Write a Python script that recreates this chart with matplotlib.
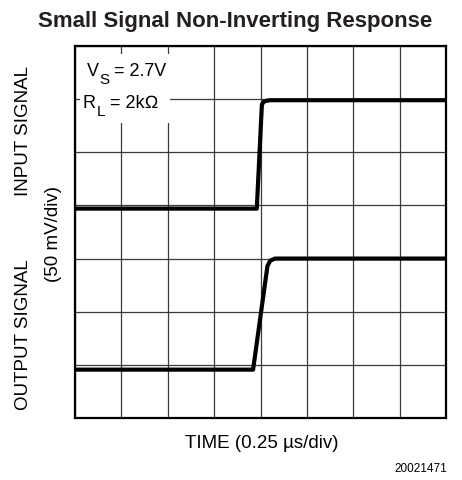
import matplotlib
matplotlib.use("Agg")
import matplotlib.pyplot as plt
from matplotlib.patches import Rectangle
import numpy as np

plt.rcParams['font.family'] = ['Liberation Sans', 'DejaVu Sans']

# time in divisions (0.25 us/div), signal in divisions (50 mV/div)
input_t = [0.0, 3.92, 4.03, 4.08, 4.2, 8.0]
input_v = [3.94, 3.94, 5.9, 5.96, 5.98, 5.98]

output_t = [0.0, 3.84, 4.15, 4.21, 4.31, 8.0]
output_v = [0.91, 0.91, 2.86, 2.96, 3.0, 3.0]

n_xdiv = 8
n_ydiv = 7

fig = plt.figure(figsize=(4.62, 4.81), dpi=100)
ax = fig.add_axes([75 / 462, 62 / 481, 371 / 462, 372 / 481])

ax.set_xlim(0, n_xdiv)
ax.set_ylim(0, n_ydiv)
ax.set_xticks(np.arange(0, n_xdiv + 1))
ax.set_yticks(np.arange(0, n_ydiv + 1))
ax.tick_params(length=0, labelbottom=False, labelleft=False)
ax.set_axisbelow(True)
ax.grid(True, color='#3a3a3a', linewidth=0.9)
for s in ax.spines.values():
    s.set_linewidth(1.6)
    s.set_color('black')
    s.set_zorder(5)

# white patch behind the condition text
ax.add_patch(Rectangle((0.11, 5.55), 1.93, 1.3, facecolor='white', edgecolor='none', zorder=1))

ax.plot(input_t, input_v, color='black', linewidth=3.0, solid_joinstyle='round', zorder=3)
ax.plot(output_t, output_v, color='black', linewidth=3.0, solid_joinstyle='round', zorder=3)


def cond_text(x, y, main, sub, rest):
    t = ax.text(x, y, main, fontsize=13, ha='left', va='baseline', zorder=4)
    s = ax.annotate(sub, xy=(1, 0), xycoords=t, xytext=(0.3, -5), textcoords='offset points',
                    fontsize=11, ha='left', va='bottom', zorder=4)
    ax.annotate(rest, xy=(1, 0), xycoords=(s, t), xytext=(0, 0), textcoords='offset points',
                fontsize=13, ha='left', va='bottom', zorder=4)


cond_text(0.25, 6.445, 'V', 'S', ' = 2.7V')
cond_text(0.17, 5.86, 'R', 'L', ' = 2k\u2126')

fig.text(235 / 462, 1 - 27.5 / 481, 'Small Signal Non-Inverting Response', fontsize=16,
         fontweight='bold', ha='center', va='baseline', color='#231f20')
fig.text(24 / 462, 1 - 131 / 481, 'INPUT SIGNAL', fontsize=13.5, rotation=90, ha='center', va='center')
fig.text(54 / 462, 1 - 234 / 481, '(50 mV/div)', fontsize=13.5, rotation=90, ha='center', va='center')
fig.text(24 / 462, 1 - 335 / 481, 'OUTPUT SIGNAL', fontsize=13.5, rotation=90, ha='center', va='center')
fig.text(262 / 462, 1 - 448 / 481, 'TIME (0.25 \u00b5s/div)', fontsize=13.5, ha='center', va='baseline')
fig.text(447 / 462, 1 - 472 / 481, '20021471', fontsize=8.5, ha='right', va='baseline')

fig.savefig('out.png', dpi=100)
